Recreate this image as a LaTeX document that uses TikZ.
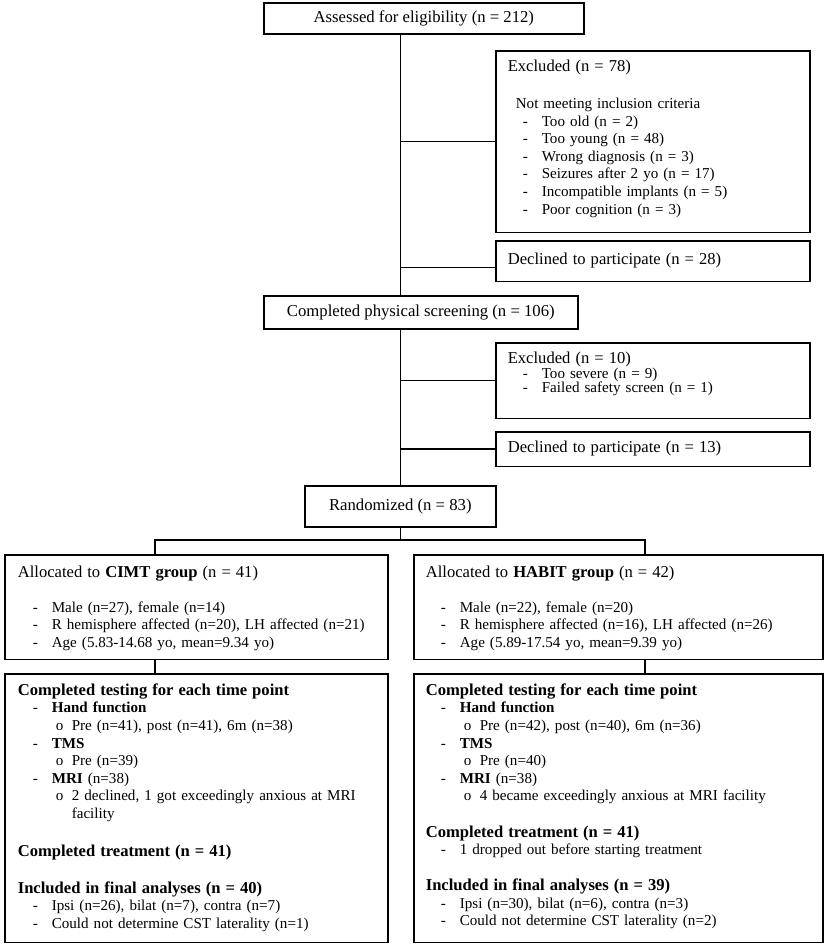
\documentclass[tikz,border=0pt]{standalone}
\usepackage{fontspec}
\setmainfont{Liberation Serif}
\usepackage{tikz}

% list lines and headings as in the flow chart
\newcommand{\dashline}[1]{\hspace*{15bp}\makebox[19bp][l]{-}#1}
\newcommand{\circline}[1]{\hspace*{38bp}\makebox[16bp][l]{o}#1}
\newcommand{\hd}{\fontsize{16.6bp}{17.6bp}\selectfont}

\tikzset{
  box/.style={draw, line width=1.6bp, anchor=north west, inner xsep=12bp, align=left,
    font=\fontsize{15.1bp}{17.6bp}\selectfont, text height=10.5bp},
  midbox/.style={draw, line width=1.6bp, anchor=north west, inner sep=0pt,
    font=\fontsize{16.7bp}{17.6bp}\selectfont, text height=11bp, text depth=3.5bp},
  link/.style={line width=1.6bp}
}

\begin{document}
\begin{tikzpicture}[x=1bp, y=-1bp]
 \useasboundingbox (0,0) rectangle (829,947);

 % main column
 \node (assess) [midbox, minimum width=320bp, minimum height=31bp] at (263,2) {Assessed for eligibility (n = 212)};
 \node (screen) [midbox, minimum width=314bp, minimum height=33bp] at (263,295) {Completed physical screening (n = 106)};
 \node (rand) [midbox, minimum width=191bp, minimum height=41bp] at (304,485) {Randomized (n = 83)};

 % exclusions
 \node (excl1) [box, text width=290bp, inner ysep=10bp, text depth=151bp] at (495,50)
  {{\hd Excluded (n = 78)}\\[19.5bp]
   \hspace*{8bp}Not meeting inclusion criteria\\
   \dashline{Too old (n = 2)}\\
   \dashline{Too young (n = 48)}\\
   \dashline{Wrong diagnosis (n = 3)}\\
   \dashline{Seizures after 2 yo (n = 17)}\\
   \dashline{Incompatible implants (n = 5)}\\
   \dashline{Poor cognition (n = 3)}};
 \node (decl1) [box, text width=290bp, inner ysep=13bp, text depth=4bp] at (495,240) {\hd Declined to participate (n = 28)};
 \node (excl2) [box, text width=290bp, inner ysep=10bp, text depth=45bp,
   font=\fontsize{15.1bp}{14.7bp}\selectfont] at (495,342)
  {{\hd Excluded (n = 10)}\\
   \dashline{Too severe (n = 9)}\\
   \dashline{Failed safety screen (n = 1)}};
 \node (decl2) [box, text width=290bp, inner ysep=10bp, text depth=4bp] at (495,431) {\hd Declined to participate (n = 13)};

 % groups
 \node (cimt) [box, inner xsep=13bp, text width=357bp, inner ysep=12bp, text depth=70bp] at (4,554)
  {{\hd Allocated to \textbf{CIMT group} (n = 41)}\\[17.3bp]
   \dashline{Male (n=27), female (n=14)}\\
   \dashline{R hemisphere affected (n=20), LH affected (n=21)}\\
   \dashline{Age (5.83-14.68 yo, mean=9.34 yo)}};
 \node (habit) [box, text width=385bp, inner ysep=12bp, text depth=70bp] at (413,554)
  {{\hd Allocated to \textbf{HABIT group} (n = 42)}\\[17.3bp]
   \dashline{Male (n=22), female (n=20)}\\
   \dashline{R hemisphere affected (n=16), LH affected (n=26)}\\
   \dashline{Age (5.89-17.54 yo, mean=9.39 yo)}};

 \node (cimtres) [box, inner xsep=13bp, text width=357bp, inner ysep=11bp, text depth=236bp] at (4,673)
  {{\hd\bfseries Completed testing for each time point}\\
   \dashline{\textbf{Hand function}}\\
   \circline{Pre (n=41), post (n=41), 6m (n=38)}\\
   \dashline{\textbf{TMS}}\\
   \circline{Pre (n=39)}\\
   \dashline{\textbf{MRI} (n=38)}\\
   \circline{2 declined, 1 got exceedingly anxious at MRI}\\
   \hspace*{54bp}facility\\[20bp]
   {\hd\bfseries Completed treatment (n = 41)}\\[19.5bp]
   {\hd\bfseries Included in final analyses (n = 40)}\\
   \dashline{Ipsi (n=26), bilat (n=7), contra (n=7)}\\
   \dashline{Could not determine CST laterality (n=1)}};
 \node (habitres) [box, text width=385bp, inner ysep=11bp, text depth=236bp] at (413,673)
  {{\hd\bfseries Completed testing for each time point}\\
   \dashline{\textbf{Hand function}}\\
   \circline{Pre (n=42), post (n=40), 6m (n=36)}\\
   \dashline{\textbf{TMS}}\\
   \circline{Pre (n=40)}\\
   \dashline{\textbf{MRI} (n=38)}\\
   \circline{4 became exceedingly anxious at MRI facility}\\[18.5bp]
   {\hd\bfseries Completed treatment (n = 41)}\\
   \dashline{1 dropped out before starting treatment}\\[18.5bp]
   {\hd\bfseries Included in final analyses (n = 39)}\\
   \dashline{Ipsi (n=30), bilat (n=6), contra (n=3)}\\
   \dashline{Could not determine CST laterality (n=2)}};

 \coordinate (lsplit) at (155,540);
 \coordinate (rsplit) at (645,540);

 % connectors
 \draw[link] (assess.south -| rand.north) -- (screen.north -| rand.north);
 \draw[link] (screen.south -| rand.north) -- (rand.north);
 \draw[link] (excl1.west -| rand.north) -- (excl1.west);
 \draw[link] ([yshift=-6.5bp]decl1.west -| rand.north) -- ([yshift=-6.5bp]decl1.west);
 \draw[link] (excl2.west -| rand.north) -- (excl2.west);
 \draw[link] (decl2.west -| rand.north) -- (decl2.west);
 \draw[link] (rand.south) -- (rand.south |- lsplit);
 \draw[link] (lsplit |- cimt.north) -- (lsplit) -- (rsplit) -- (rsplit |- habit.north);
 \draw[link] (cimt.south -| lsplit) -- (cimtres.north -| lsplit);
 \draw[link] (habit.south -| rsplit) -- (habitres.north -| rsplit);
\end{tikzpicture}
\end{document}
